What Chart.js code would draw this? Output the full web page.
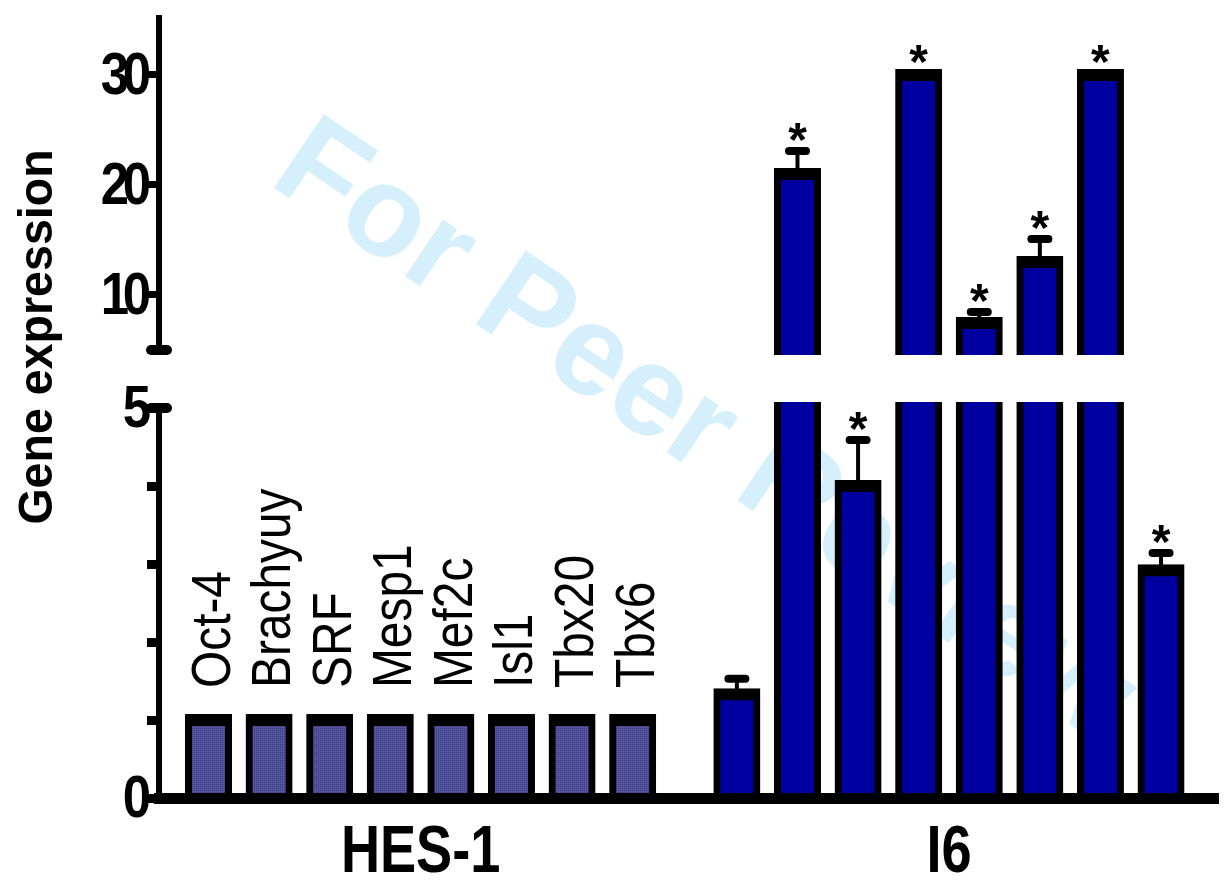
<!DOCTYPE html>
<html>
<head>
<meta charset="utf-8">
<style>
  html, body { margin: 0; padding: 0; background: #ffffff; }
  #wrap { position: relative; width: 1225px; height: 891px; overflow: hidden; }
  #wrap canvas { position: absolute; left: 0; top: 0; }
</style>
<script src="https://cdn.jsdelivr.net/npm/chart.js@4.4.1/dist/chart.umd.min.js"></script>
</head>
<body>
<div id="wrap">
  <canvas id="lower" width="1225" height="891"></canvas>
  <canvas id="upper" width="1225" height="891"></canvas>
</div>
<script>
// ---------------- DATA ----------------
const GENES = ['Oct-4', 'Brachyuy', 'SRF', 'Mesp1', 'Mef2c', 'Isl1', 'Tbx20', 'Tbx6'];
const GROUPS = ['HES-1', 'I6'];
const HES1_VALUES = [1, 1, 1, 1, 1, 1, 1, 1];
const HES1_ERRORS = [0, 0, 0, 0, 0, 0, 0, 0];
const I6_VALUES = [1.33, 21.0, 4.0, 30, 7.45, 13.0, 30, 2.92];
const I6_ERRORS = [0.2, 2.1, 0.59, 0, 1.0, 2.1, 0, 0.22];
const I6_SIGNIFICANT = [false, true, true, true, true, true, true, true];
const LOWER_TICKS = [0, 1, 2, 3, 4, 5];
const LOWER_TICK_LABELS = ['0', '', '', '', '', '5'];
const UPPER_TICKS = [10, 20, 30];
const UPPER_TICK_LABELS = ['10', '20', '30'];
const Y_TITLE = 'Gene expression';
const WATERMARK = 'For Peer Review';

// ---------------- LAYOUT / STYLE ----------------
const BREAK_VALUE = 5;        // lower panel max, upper panel min
const UPPER_MAX = 35.18;
const GROUP_OFFSET = 8.72;     // slot of first I6 bar
const X_MIN = -0.817, X_MAX = 16.66;
const FONT = '"Liberation Sans", Arial, Helvetica, sans-serif';
const I6_COLOR = '#0000a0';

function makePattern() {
  const c = document.createElement('canvas');
  c.width = 4; c.height = 4;
  const g = c.getContext('2d');
  g.fillStyle = '#56569e';
  g.fillRect(0, 0, 4, 4);
  g.fillStyle = '#3a3a84';
  g.fillRect(0, 0, 1, 1); g.fillRect(2, 2, 1, 1);
  g.fillRect(2, 0, 1, 1); g.fillRect(0, 2, 1, 1);
  return g.createPattern(c, 'repeat');
}
const HES_FILL = makePattern();

const hesPoints = HES1_VALUES.map((v, i) => ({ x: i, y: v }));
const i6Points = I6_VALUES.map((v, i) => ({ x: i + GROUP_OFFSET, y: v }));

function barDataset(points, fill, clip) {
  return {
    data: points,
    backgroundColor: fill,
    borderColor: '#000000',
    borderWidth: { top: 12, left: 7, right: 7, bottom: 0 },
    borderSkipped: 'start',
    inflateAmount: 6,
    barThickness: 35,
    grouped: false,
    clip: clip
  };
}

function txt(ctx, text, x, y, o) {
  ctx.save();
  ctx.translate(x, y);
  if (o.rot) ctx.rotate(o.rot);
  ctx.scale(o.sx || 1, 1);
  ctx.font = o.font;
  ctx.fillStyle = o.color || '#000';
  ctx.textAlign = o.align || 'left';
  ctx.textBaseline = 'alphabetic';
  ctx.fillText(text, 0, 0);
  ctx.restore();
}

function tickLabel(ctx, text, right, base) {
  let x = right;
  for (let i = text.length - 1; i >= 0; i--) {
    txt(ctx, text[i], x, base, { font: 'bold 60px ' + FONT, sx: 0.85, align: 'right' });
    x -= 22;
  }
}

function axisCap(ctx, xAxis, y) {
  ctx.save();
  ctx.strokeStyle = '#000';
  ctx.lineWidth = 10;
  ctx.lineCap = 'round';
  ctx.beginPath();
  ctx.moveTo(xAxis - 8, y);
  ctx.lineTo(xAxis + 8, y);
  ctx.stroke();
  ctx.restore();
}

function errorBarsAndStars(chart, panel) {
  const ctx = chart.ctx;
  const xs = chart.scales.x, ys = chart.scales.y;
  const groups = [
    { vals: HES1_VALUES, errs: HES1_ERRORS, sig: HES1_VALUES.map(() => false), off: 0 },
    { vals: I6_VALUES, errs: I6_ERRORS, sig: I6_SIGNIFICANT, off: GROUP_OFFSET }
  ];
  ctx.save();
  ctx.strokeStyle = '#000';
  groups.forEach(g => {
    g.vals.forEach((v, i) => {
      const inPanel = panel === 'upper' ? v > BREAK_VALUE : v <= BREAK_VALUE;
      if (!inPanel) return;
      const px = xs.getPixelForValue(i + g.off);
      const yv = ys.getPixelForValue(v);
      let topY = yv - 6;
      if (g.errs[i] > 0) {
        const yc = ys.getPixelForValue(v + g.errs[i]);
        ctx.lineWidth = 4; ctx.lineCap = 'butt';
        ctx.beginPath(); ctx.moveTo(px, yv); ctx.lineTo(px, yc); ctx.stroke();
        ctx.lineWidth = 8; ctx.lineCap = 'round';
        ctx.beginPath(); ctx.moveTo(px - 8.5, yc); ctx.lineTo(px + 8.5, yc); ctx.stroke();
        topY = yc - 4;
      }
      if (g.sig[i]) {
        txt(ctx, '*', px, topY - 5 + 14, { font: 'bold 48px ' + FONT, align: 'center' });
      }
    });
  });
  ctx.restore();
}

const extrasPlugin = {
  id: 'extras',
  beforeDatasetsDraw(chart, args, opts) {
    if (opts.panel !== 'lower') return;
    const ctx = chart.ctx;
    ctx.save();
    ctx.translate(267, 183);
    ctx.rotate(34 * Math.PI / 180);
    ctx.font = 'bold 129px ' + FONT;
    ctx.fillStyle = '#d5effc';
    ctx.textAlign = 'left';
    ctx.textBaseline = 'alphabetic';
    ctx.fillText(WATERMARK, 0, 0);
    ctx.restore();
  },
  afterDatasetsDraw(chart, args, opts) {
    errorBarsAndStars(chart, opts.panel);
  },
  afterDraw(chart, args, opts) {
    const ctx = chart.ctx;
    const ys = chart.scales.y, xs = chart.scales.x;
    const axisX = chart.chartArea.left;
    const ticks = opts.panel === 'upper' ? UPPER_TICKS : LOWER_TICKS;
    const labels = opts.panel === 'upper' ? UPPER_TICK_LABELS : LOWER_TICK_LABELS;
    axisCap(ctx, axisX, ys.getPixelForValue(BREAK_VALUE));
    ticks.forEach((t, i) => {
      if (labels[i]) tickLabel(ctx, labels[i], 151, ys.getPixelForValue(t) + 19);
    });
    if (opts.panel !== 'lower') return;
    // gene labels above HES-1 bars
    GENES.forEach((g, i) => {
      txt(ctx, g, xs.getPixelForValue(i) + 21, 688, { font: '55px ' + FONT, sx: 0.87, rot: -Math.PI / 2 });
    });
    // group labels
    const hesC = (xs.getPixelForValue(0) + xs.getPixelForValue(HES1_VALUES.length - 1)) / 2;
    const i6C = (xs.getPixelForValue(GROUP_OFFSET) + xs.getPixelForValue(GROUP_OFFSET + I6_VALUES.length - 1)) / 2;
    txt(ctx, GROUPS[0], hesC, 872, { font: 'bold 66px ' + FONT, sx: 0.82, align: 'center' });
    txt(ctx, GROUPS[1], i6C, 872, { font: 'bold 66px ' + FONT, sx: 0.82, align: 'center' });
    // y title
    txt(ctx, Y_TITLE, 52, 337, { font: 'bold 48px ' + FONT, sx: 0.97, align: 'center', rot: -Math.PI / 2 });
  }
};

function yScale(min, max, tickVals, tickWidth) {
  return {
    type: 'linear',
    min: min, max: max,
    afterBuildTicks: s => { s.ticks = tickVals.map(v => ({ value: v })); },
    afterFit: s => { s.width = 159; },
    ticks: { display: false },
    grid: { display: true, drawOnChartArea: false, drawTicks: true, tickLength: 12, tickWidth: tickWidth, tickColor: '#000' },
    border: { display: true, color: '#000', width: 6, z: 1 }
  };
}

function xScale(visible) {
  return {
    type: 'linear',
    min: X_MIN, max: X_MAX,
    offset: false,
    display: visible,
    afterFit: s => { s.height = visible ? 93 : 0; },
    ticks: { display: false },
    grid: { display: true, offset: false, drawOnChartArea: false, drawTicks: false },
    border: { display: true, color: '#000', width: 11, z: 1 }
  };
}

const common = {
  responsive: false,
  animation: false,
  devicePixelRatio: 1,
  events: [],
  plugins: { legend: { display: false }, tooltip: { enabled: false } }
};

new Chart(document.getElementById('lower'), {
  type: 'bar',
  data: {
    datasets: [
      barDataset(hesPoints, HES_FILL, { left: false, right: false, top: 6, bottom: false }),
      barDataset(i6Points, I6_COLOR, { left: false, right: false, top: 6, bottom: false })
    ]
  },
  options: Object.assign({}, common, {
    layout: { padding: { top: 408, right: 7, bottom: 0, left: 0 } },
    scales: { x: xScale(true), y: yScale(0, BREAK_VALUE, LOWER_TICKS, 9) },
    plugins: Object.assign({}, common.plugins, { extras: { panel: 'lower' } })
  }),
  plugins: [extrasPlugin]
});

const upperOnly = pts => pts.map(p => ({ x: p.x, y: p.y > BREAK_VALUE ? p.y : null }));

new Chart(document.getElementById('upper'), {
  type: 'bar',
  data: {
    datasets: [
      barDataset(upperOnly(hesPoints), HES_FILL, { left: false, right: false, top: false, bottom: 5 }),
      barDataset(upperOnly(i6Points), I6_COLOR, { left: false, right: false, top: false, bottom: 5 })
    ]
  },
  options: Object.assign({}, common, {
    layout: { padding: { top: 18, right: 7, bottom: 541, left: 0 } },
    scales: { x: xScale(false), y: yScale(BREAK_VALUE, UPPER_MAX, UPPER_TICKS, 7) },
    plugins: Object.assign({}, common.plugins, { extras: { panel: 'upper' } })
  }),
  plugins: [extrasPlugin]
});
</script>
</body>
</html>
